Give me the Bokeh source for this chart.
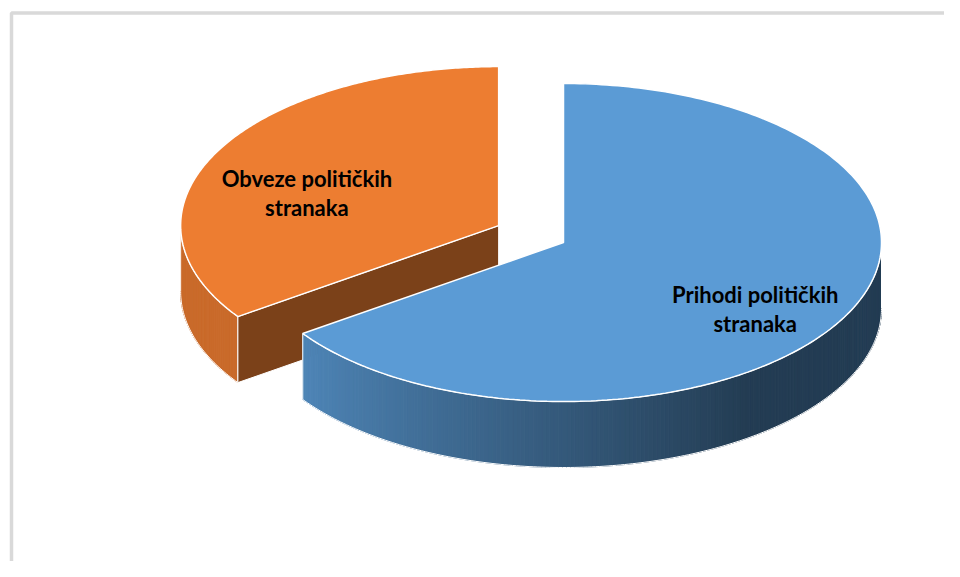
import numpy as np
from bokeh.plotting import figure
from bokeh.models import Range1d
from bokeh.core.properties import value
from bokeh.embed import file_html
from bokeh.resources import INLINE

# ---- data ----
categories = ["Prihodi političkih stranaka", "Obveze političkih stranaka"]
label_lines = [["Prihodi političkih", "stranaka"], ["Obveze političkih", "stranaka"]]
shares = [65.3, 34.7]
explode = [0.0, 0.23]
top_colors = ["#5B9BD5", "#ED7D31"]

# ---- geometry / style ----
W, H = 944, 561
CX, CY = 563.0, 242.0
RX, RY = 318.0, 159.0
DEPTH = 66.0
START = -90.0  # degrees, screen coords (clockwise positive, y down)


def hex2rgb(h):
    h = h.lstrip("#")
    return tuple(int(h[i:i + 2], 16) for i in (0, 2, 4))


def rgb2hex(c):
    return "#%02x%02x%02x" % tuple(int(max(0, min(255, round(v)))) for v in c)


def shade(hexcol, f):
    r, g, b = hex2rgb(hexcol)
    return rgb2hex((r * f, g * f, b * f))


def side_factor(theta):
    t = np.clip((theta - 55.0) / (143.0 - 55.0), 0.0, 1.0)
    return 0.39 + (0.85 - 0.39) * t


p = figure(width=W, height=H, output_backend="svg", toolbar_location=None,
           x_range=Range1d(0, W), y_range=Range1d(H, 0),
           min_border=0, outline_line_color=None, background_fill_color="white",
           border_fill_color="white")
p.axis.visible = False
p.grid.visible = False

# chart border (light gray frame)
p.line(x=[11, 11, 1200], y=[900, 12.5, 12.5], line_color="#D9D9D9", line_width=3.5)

total = float(sum(shares))
slices = []
a = START
for i, v in enumerate(shares):
    span = 360.0 * v / total
    b = a + span
    mid = np.radians((a + b) / 2.0)
    ox = CX + explode[i] * RX * np.cos(mid)
    oy = CY + explode[i] * RY * np.sin(mid)
    slices.append(dict(i=i, a=a, b=b, cx=ox, cy=oy, mid=mid))
    a = b

# draw back-to-front
for s in sorted(slices, key=lambda d: d["cy"]):
    i, a, b, cx, cy = s["i"], s["a"], s["b"], s["cx"], s["cy"]
    col = top_colors[i]

    # outer visible side (front half: 0..180 deg)
    for k in (-360.0, 0.0, 360.0):
        lo, hi = max(a, 0.0 + k), min(b, 180.0 + k)
        if hi <= lo:
            continue
        th = np.linspace(lo, hi, max(3, int((hi - lo) / 0.75) + 1))
        xs_s, ys_s, cs = [], [], []
        for t0, t1 in zip(th[:-1], th[1:]):
            r0, r1 = np.radians(t0), np.radians(t1)
            x0, y0 = cx + RX * np.cos(r0), cy + RY * np.sin(r0)
            x1, y1 = cx + RX * np.cos(r1), cy + RY * np.sin(r1)
            xs_s.append([x0, x1, x1, x0])
            ys_s.append([y0, y1, y1 + DEPTH, y0 + DEPTH])
            cs.append(shade(col, side_factor((t0 + t1) / 2.0 - k)))
        p.patches(xs_s, ys_s, fill_color=cs, line_color=cs, line_width=1)
        rr = np.radians(th)
        ox_ = cx + RX * np.cos(rr)
        oy_ = cy + RY * np.sin(rr)
        p.patch(np.concatenate([ox_, ox_[::-1]]), np.concatenate([oy_, oy_[::-1] + DEPTH]),
                fill_color=None, line_color="white", line_width=1)

    # radial cut faces
    for ang, sgn in ((a, -90.0), (b, 90.0)):
        if np.sin(np.radians(ang + sgn)) > 1e-6:
            r = np.radians(ang)
            ex, ey = cx + RX * np.cos(r), cy + RY * np.sin(r)
            p.patch([cx, ex, ex, cx], [cy, ey, ey + DEPTH, cy + DEPTH],
                    fill_color=shade(col, 0.52), line_color="white", line_width=1)

    # top face
    th = np.radians(np.linspace(a, b, 240))
    xs = np.concatenate([[cx], cx + RX * np.cos(th), [cx]])
    ys = np.concatenate([[cy], cy + RY * np.sin(th), [cy]])
    p.patch(xs, ys, fill_color=col, line_color="white", line_width=1.5)

# labels
tx, ty, tt = [], [], []
for s in slices:
    lx = s["cx"] + 0.68 * RX * np.cos(s["mid"])
    ly = s["cy"] + 0.68 * RY * np.sin(s["mid"])
    for j, line in enumerate(label_lines[s["i"]]):
        tx.append(lx)
        ty.append(ly + 2.5 + 29.0 * j)
        tt.append(line)
p.text(x=tx, y=ty, text=tt, text_font=value("Lato"), text_font_style="bold",
       text_font_size="22px", text_align="center", text_baseline="alphabetic",
       text_color="black")

open("out.html", "w").write(file_html(p, INLINE))
